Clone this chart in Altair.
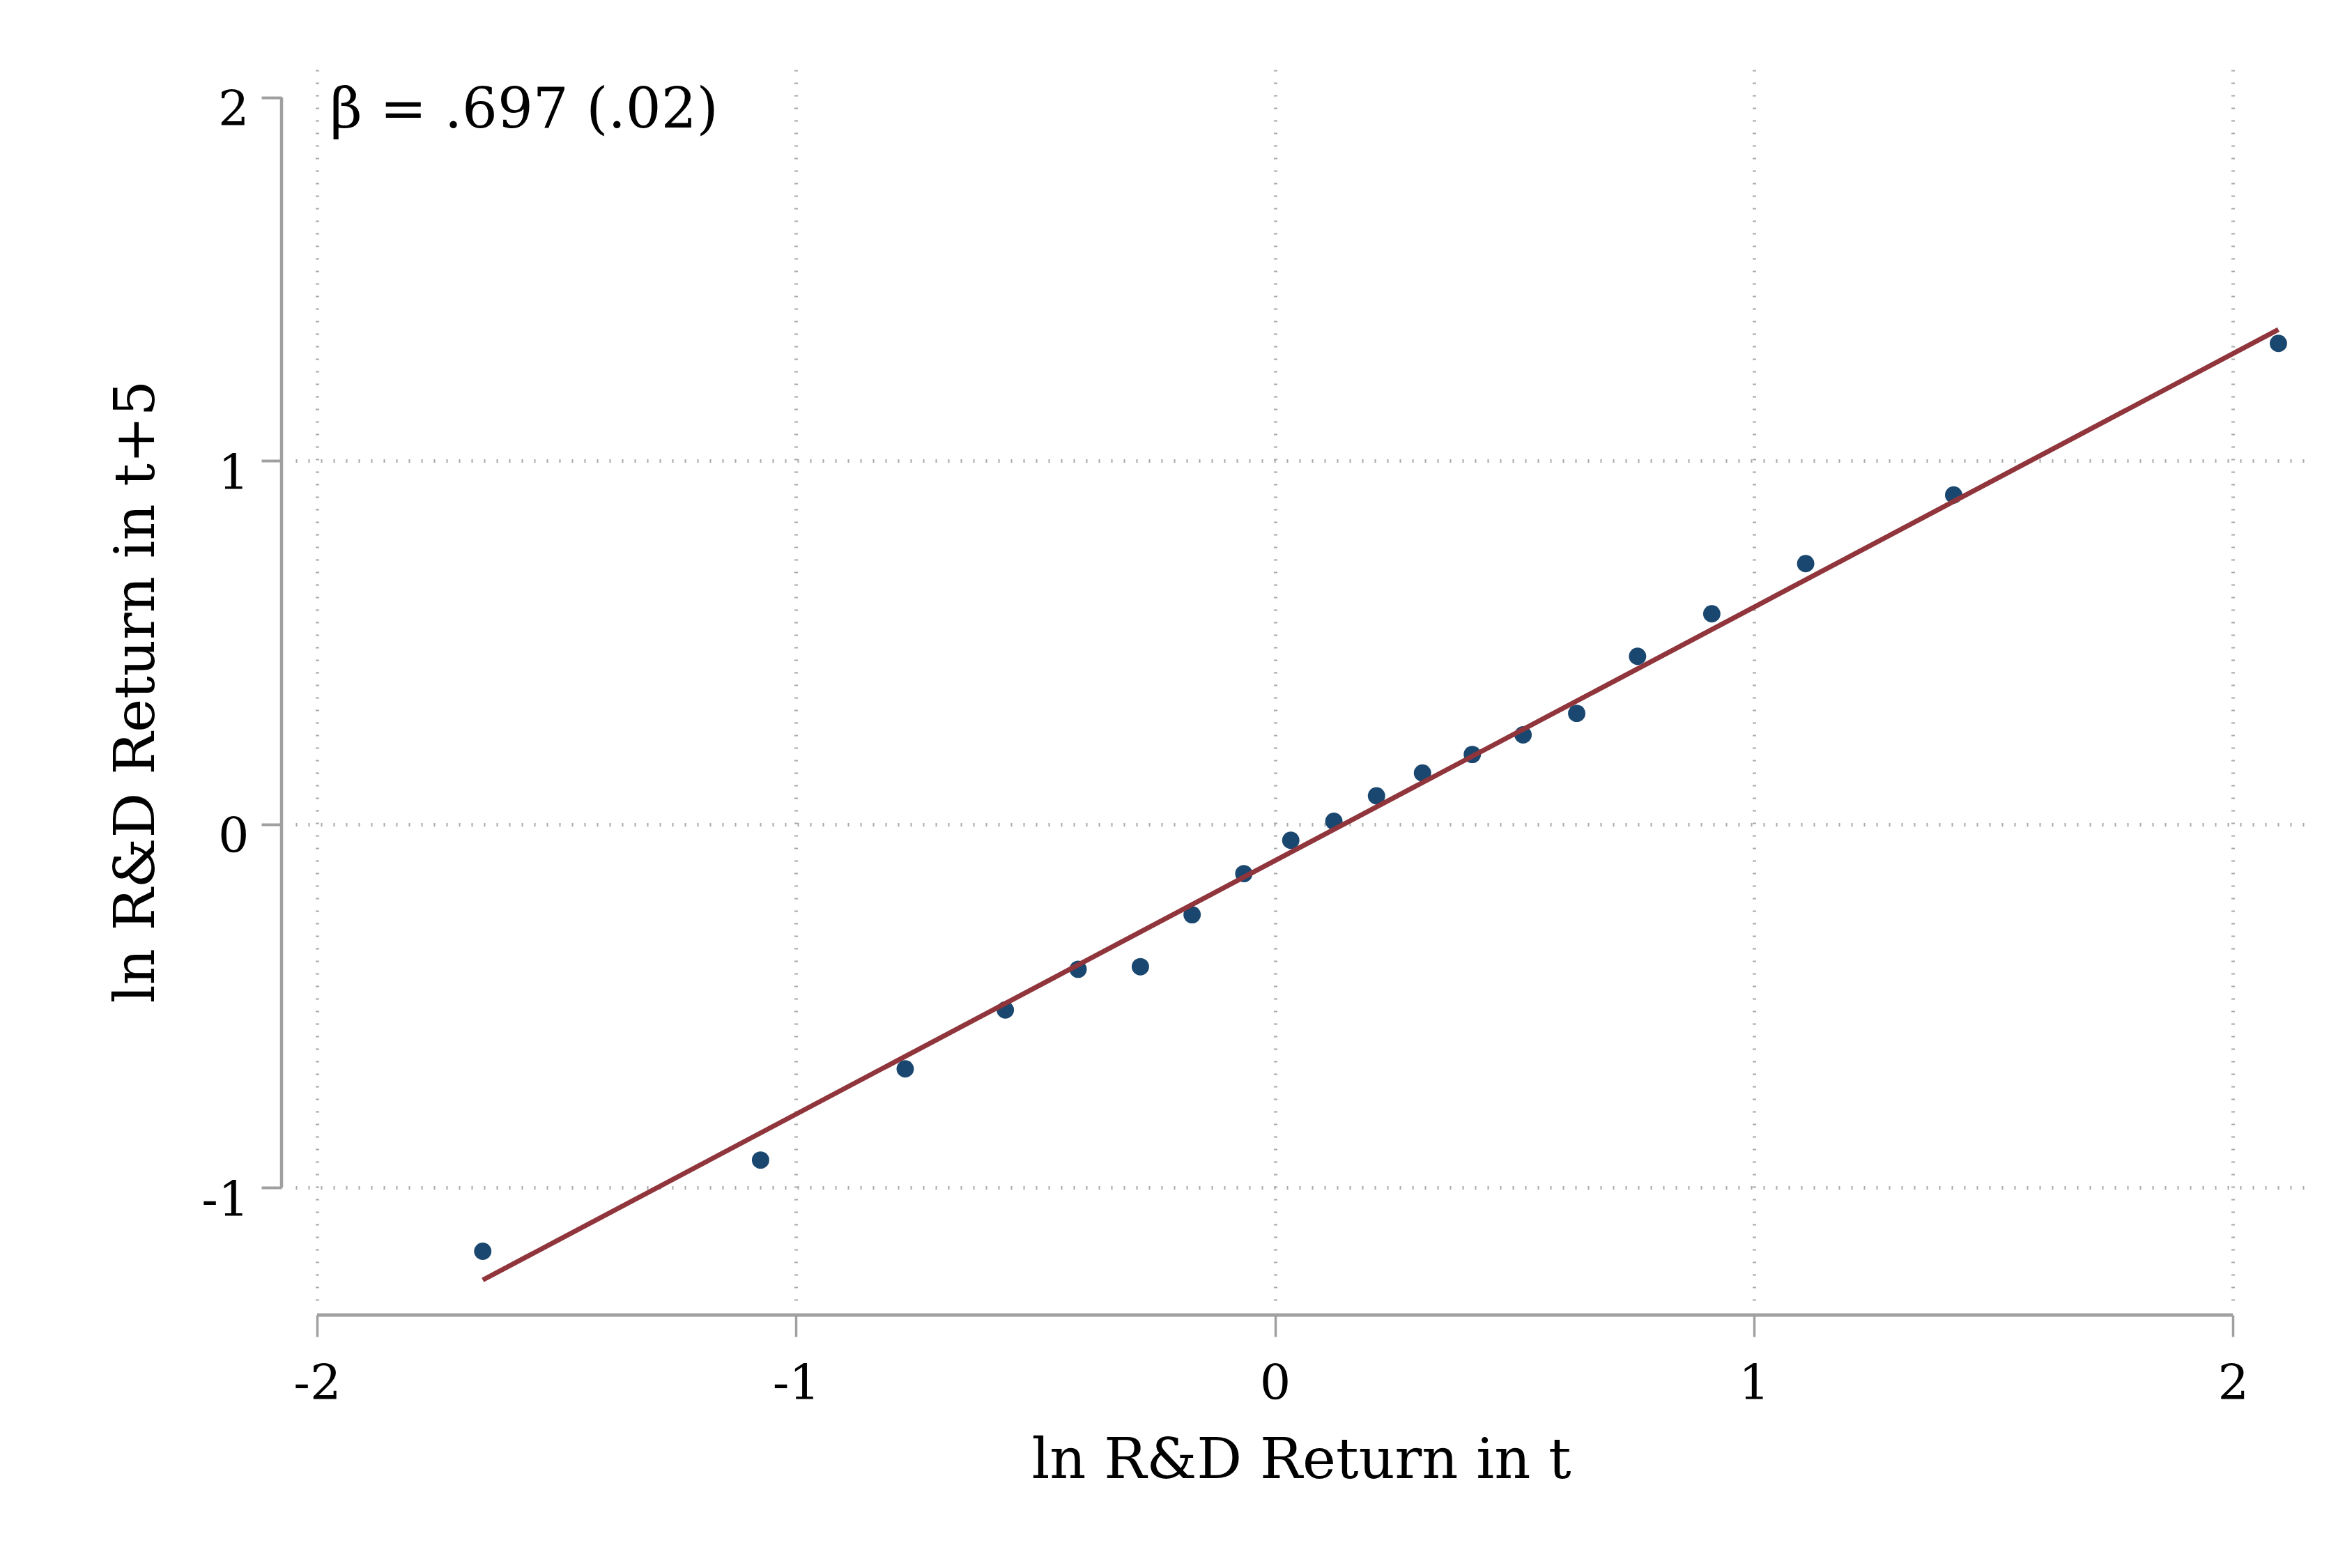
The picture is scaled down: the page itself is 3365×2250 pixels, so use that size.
import altair as alt
import pandas as pd

# Binned scatter values
bin_x = [-1.654, -1.074, -0.772, -0.563, -0.411, -0.281, -0.173, -0.065, 0.033, 0.123,
         0.212, 0.308, 0.412, 0.518, 0.630, 0.757, 0.912, 1.108, 1.417, 2.095]
bin_y = [-1.175, -0.924, -0.673, -0.511, -0.399, -0.392, -0.249, -0.136, -0.044, 0.008,
         0.078, 0.141, 0.192, 0.246, 0.305, 0.462, 0.579, 0.717, 0.906, 1.323]

# Fitted line end points
fit_x = [-1.654, 2.095]
fit_y = [-1.254, 1.361]

# Axes
x_ticks = [-2, -1, 0, 1, 2]
y_ticks = [-1, 0, 1, 2]
x_domain = [-2.045, 2.154]
y_domain = [-1.312, 2.076]
x_title = "ln R&D Return in t"
y_title = "ln R&D Return in t+5"

# Annotation
note_text = ["β = .697 (.02)"]
note_x = [-1.973]
note_y = [1.917]

FONT = "DejaVu Serif"
AXIS = "#a0a0a0"
GRID = "#a8a8a8"
W, H = 2886, 1767
OFF = 20

pts = pd.DataFrame({"x": bin_x, "y": bin_y})
fit = pd.DataFrame({"x": fit_x, "y": fit_y})
note = pd.DataFrame({"x": note_x, "y": note_y, "label": note_text})
xline = pd.DataFrame({"x": [x_ticks[0]], "x2": [x_ticks[-1]]})
yline = pd.DataFrame({"y": [y_ticks[0]], "y2": [y_ticks[-1]]})

xs = alt.Scale(domain=x_domain, nice=False, zero=False)
ys = alt.Scale(domain=y_domain, nice=False, zero=False)

x_axis = alt.Axis(
    values=x_ticks, title=x_title, offset=OFF, domain=False,
    tickSize=31, tickWidth=3.5, tickColor=AXIS,
    labelFont=FONT, labelFontSize=70, labelPadding=89, labelBaseline="alphabetic",
    labelColor="black", labelExpr="'' + datum.value",
    titleFont=FONT, titleFontSize=81, titleFontWeight="normal", titleColor="black",
    titleY=233, titleBaseline="alphabetic",
    grid=True, gridColor=GRID, gridWidth=5, gridDash=[2, 16],
)
y_axis = alt.Axis(
    values=y_ticks, title=y_title, offset=OFF, domain=False,
    tickSize=29, tickWidth=4, tickColor=AXIS,
    labelFont=FONT, labelFontSize=70, labelPadding=18, labelBaseline="alphabetic",
    labelAlign="right", labelOffset=40,
    labelColor="black", labelExpr="'' + datum.value",
    titleFont=FONT, titleFontSize=81, titleFontWeight="normal", titleColor="black",
    titleAngle=270, titleBaseline="alphabetic", titleAlign="center",
    titleX=-184, titleY=892,
    grid=True, gridColor=GRID, gridWidth=5, gridDash=[2, 16],
    gridOpacity={"condition": {"test": "datum.value === 2", "value": 0}, "value": 1},
)

scatter = alt.Chart(pts).mark_circle(size=620, color="#1a476f", opacity=1).encode(
    x=alt.X("x:Q", scale=xs, axis=x_axis),
    y=alt.Y("y:Q", scale=ys, axis=y_axis),
)

line = alt.Chart(fit).mark_line(color="#90353b", strokeWidth=7).encode(
    x=alt.X("x:Q", scale=xs),
    y=alt.Y("y:Q", scale=ys),
)

text = alt.Chart(note).mark_text(
    align="left", baseline="alphabetic", font=FONT, fontSize=80, color="black"
).encode(
    x=alt.X("x:Q", scale=xs),
    y=alt.Y("y:Q", scale=ys),
    text="label:N",
)

x_dom = alt.Chart(xline).mark_rule(color=AXIS, strokeWidth=5).encode(
    x=alt.X("x:Q", scale=xs),
    x2="x2:Q",
    y=alt.value(H + OFF),
)
y_dom = alt.Chart(yline).mark_rule(color=AXIS, strokeWidth=4.5).encode(
    y=alt.Y("y:Q", scale=ys),
    y2="y2:Q",
    x=alt.value(-OFF),
)

chart = alt.layer(scatter, line, text, x_dom, y_dom).properties(
    width=W, height=H,
    autosize=alt.AutoSizeParams(type="none"),
    padding={"left": 416, "top": 92, "right": 40, "bottom": 360},
    background="white",
).configure_view(stroke=None)

chart.save("out.html", embed_options={"renderer": "svg", "actions": False})
